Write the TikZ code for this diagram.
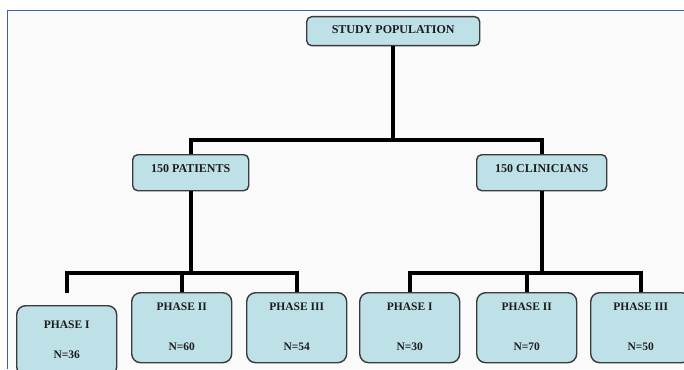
\documentclass[tikz,border=0pt]{standalone}
\usepackage{fontspec}
\setmainfont{Liberation Serif}
\definecolor{boxfill}{HTML}{BEE1E7}
\definecolor{boxedge}{HTML}{3A3A3A}
\definecolor{framec}{HTML}{3A62B0}
\definecolor{bgc}{HTML}{FAFAFA}
\definecolor{txt}{HTML}{1C1C1C}
\newcommand{\phtext}[4]{\raisebox{#4}{\begin{tabular}{@{}c@{}}#1\\[#3]#2\end{tabular}}}
\tikzset{
  topbox/.style={draw=boxedge, line width=1.4pt, fill=boxfill, rounded corners=5pt,
    inner sep=0pt, text=txt, font=\bfseries\fontsize{12}{14}\selectfont},
  phasebox/.style={draw=boxedge, line width=1.4pt, fill=boxfill, rounded corners=9pt,
    minimum width=100pt, minimum height=70pt, inner sep=0pt, align=center, text=txt,
    font=\bfseries\fontsize{11.5}{14}\selectfont},
  conn/.style={line width=4.3pt, black, line join=miter}
}
\begin{document}
\begin{tikzpicture}[x=1pt,y=-1pt]
\useasboundingbox (0,0) rectangle (684,369);
\fill[white] (0,0) rectangle (684,369);
\fill[bgc] (7,11) rectangle (684,369);
\draw[framec, line width=1pt] (684,11) -- (7,11) -- (7,369);

\node[topbox, minimum width=173pt, minimum height=29pt, anchor=north west] (pop) at (306,16) {\raisebox{3pt}{STUDY POPULATION}};
\node[topbox, minimum width=116pt, minimum height=36pt, anchor=north west] (pat) at (132,154) {\raisebox{9pt}{150 PATIENTS}};
\node[topbox, minimum width=130pt, minimum height=36pt, anchor=north west] (clin) at (476,154) {\raisebox{9pt}{150 CLINICIANS}};

\node[phasebox, anchor=north west] (p1) at (16,305) {\phtext{PHASE I}{N=36}{16pt}{3pt}};
\node[phasebox, anchor=north west] (p2) at (131,292) {\phtext{PHASE II}{N=60}{26pt}{4pt}};
\node[phasebox, anchor=north west] (p3) at (246,292) {\phtext{PHASE III}{N=54}{26pt}{4pt}};
\node[phasebox, anchor=north west] (c1) at (359,292) {\phtext{PHASE I}{N=30}{26pt}{4pt}};
\node[phasebox, anchor=north west] (c2) at (476,292) {\phtext{PHASE II}{N=70}{26pt}{4pt}};
\node[phasebox, anchor=north west] (c3) at (590,292) {\phtext{PHASE III}{N=50}{26pt}{4pt}};

\coordinate (bar1) at (0,140);
\coordinate (bar2) at (0,273);
\coordinate (p1end) at ([yshift=12pt]p1.north);

\draw[conn] (pop.south) -- (pop.south |- bar1);
\draw[conn] (pat.north) -- (pat.north |- bar1) -| (clin.north);

\draw[conn] (pat.south) -- (pat.south |- bar2);
\draw[conn] (p1end) -- (p1end |- bar2) -| (p3.north);
\draw[conn] (p2.north) -- (p2.north |- bar2);

\draw[conn] (clin.south) -- (clin.south |- bar2);
\draw[conn] (c1.north) -- (c1.north |- bar2) -| (c3.north);
\draw[conn] (c2.north) -- (c2.north |- bar2);
\end{tikzpicture}
\end{document}
